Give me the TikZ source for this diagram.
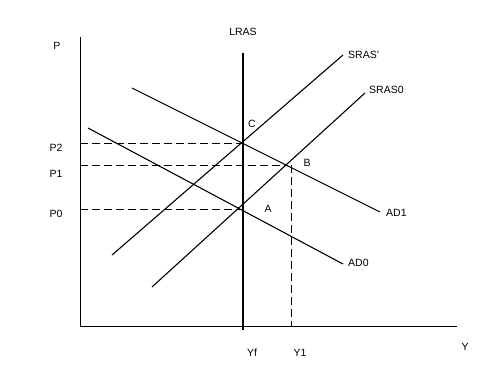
\documentclass[tikz,border=0pt]{standalone}
\usepackage{fontspec}
\setmainfont{Liberation Sans}
\usepackage{tikz}
\usetikzlibrary{calc}

\begin{document}
\begin{tikzpicture}[x=1pt,y=-1pt,
    curve/.style={line width=1.1pt},
    lras/.style={line width=2pt},
    guide/.style={dash pattern=on 8pt off 4pt},
    lbl/.style={font=\fontsize{10.5}{12}\selectfont,inner sep=1pt}]
    \useasboundingbox (0,0) rectangle (493,370);
    % axes
    \coordinate (O) at (80,326);
    \coordinate (Ptop) at (80,37);
    \coordinate (Yend) at (457,326);
    \draw[] (57,46) node[lbl] (Plab) {P};
    \draw[] (465,347) node[lbl] (Ylab) {Y};
    \draw (Ptop) -- (O) -- (Yend);
    % curve end points
    \coordinate (LRASt) at (243,53);
    \coordinate (LRASb) at (243,330);
    \coordinate (SRASpa) at (112,255);
    \coordinate (SRASpb) at (343,55);
    \coordinate (SRASa) at (152,287);
    \coordinate (SRASb) at (365,93);
    \coordinate (ADonea) at (132,88);
    \coordinate (ADoneb) at (380,212);
    \coordinate (ADzeroa) at (88,128);
    \coordinate (ADzerob) at (343,264);
    % equilibria
    \coordinate (C) at (243,143);
    \coordinate (B) at (287,165);
    \coordinate (A) at (243,209);
    \coordinate (Bfoot) at (291,326);
    % curve labels
    \draw[] (243,32) node[lbl] (LRAS) {LRAS};
    \draw[] (347,55) node[lbl,anchor=west] (SRASp) {SRAS'};
    \draw[] (368,90) node[lbl,anchor=west] (SRAS) {SRAS0};
    \draw[] (385,213) node[lbl,anchor=west] (ADone) {AD1};
    \draw[] (347,263) node[lbl,anchor=west] (ADzero) {AD0};
    \draw[] (252,124) node[lbl] (Clab) {C};
    \draw[] (307,163) node[lbl] (Blab) {B};
    \draw[] (268,209) node[lbl] (Alab) {A};
    % axis labels
    \draw[] (56,148) node[lbl] (Ptwo) {P2};
    \draw[] (56,174) node[lbl] (Pone) {P1};
    \draw[] (56,214) node[lbl] (Pzero) {P0};
    \draw[] (252,353) node[lbl] (Yf) {Yf};
    \draw[] (300,353) node[lbl] (Yone) {Y1};
    % curves
    \draw[lras] (LRASt) -- (LRASb);
    \draw[curve] (SRASpa) -- (SRASpb);
    \draw[curve] (SRASa) -- (SRASb);
    \draw[curve] (ADonea) -- (ADoneb);
    \draw[curve] (ADzeroa) -- (ADzerob);
    % dashed guides
    \draw[guide] (O |- C) -- (C);
    \draw[guide] (O |- B) -- (B);
    \draw[guide] (O |- A) -- (A);
    \draw[guide] (Bfoot |- B) -- (Bfoot);
\end{tikzpicture}
\end{document}
